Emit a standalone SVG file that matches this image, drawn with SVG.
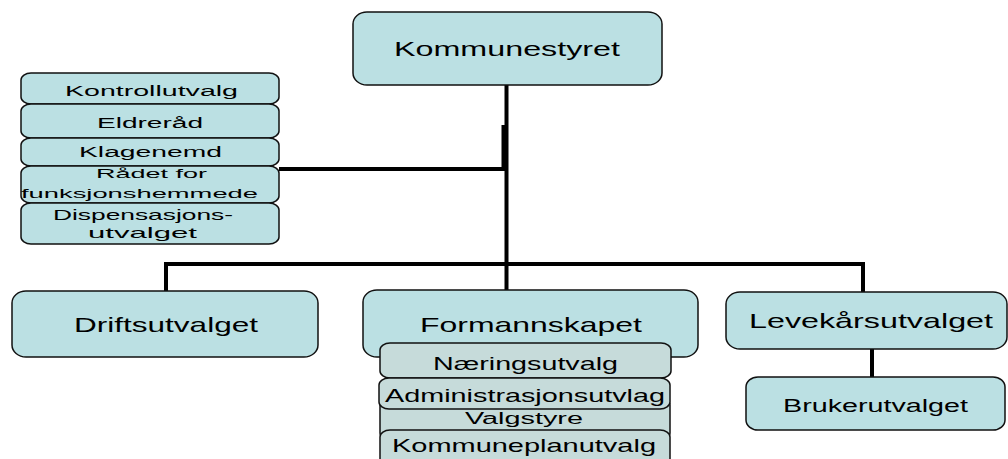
<svg xmlns="http://www.w3.org/2000/svg" width="1008" height="459" viewBox="0 0 1008 459">
<style>
text{font-family:"Liberation Sans",Arial,sans-serif;fill:#000;text-anchor:middle}
.box{fill:#BBE0E3;stroke:#111;stroke-width:1.5}
.sub{fill:#C6DBDA;stroke:#111;stroke-width:1.5}
.con{fill:none;stroke:#000;stroke-width:4}
</style>
<rect width="1008" height="459" fill="#fff"/>
<g id="connectors">
<path class="con" d="M506.5 85 V290"/>
<path class="con" d="M279 169 H503.5 V125"/>
<path class="con" d="M166 291 V264 H863 V292"/>
<path class="con" d="M872 349 V377"/>
</g>
<g id="kommunestyret">
<rect class="box" x="353" y="12" width="309" height="73" rx="14" ry="12"/>
<text x="507" y="56" font-size="20" textLength="226" lengthAdjust="spacingAndGlyphs">Kommunestyret</text>
</g>
<g id="kontrollutvalg">
<rect class="box" x="21" y="73" width="258" height="31" rx="10" ry="7"/>
<text x="151.5" y="96" font-size="15.5" textLength="173" lengthAdjust="spacingAndGlyphs">Kontrollutvalg</text>
</g>
<g id="eldrerad">
<rect class="box" x="21" y="104" width="258" height="34" rx="10" ry="7"/>
<text x="150" y="128" font-size="15.5" textLength="106" lengthAdjust="spacingAndGlyphs">Eldreråd</text>
</g>
<g id="klagenemd">
<rect class="box" x="21" y="138" width="258" height="28" rx="10" ry="7"/>
<text x="150.5" y="157" font-size="15.5" textLength="143" lengthAdjust="spacingAndGlyphs">Klagenemd</text>
</g>
<g id="radet">
<rect class="box" x="21" y="166" width="258" height="37" rx="10" ry="7"/>
<text x="151.5" y="178" font-size="13.5" textLength="111" lengthAdjust="spacingAndGlyphs">Rådet for</text>
<text x="139.5" y="198" font-size="13.5" textLength="237" lengthAdjust="spacingAndGlyphs">funksjonshemmede</text>
</g>
<g id="dispensasjon">
<rect class="box" x="21" y="203" width="258" height="41" rx="10" ry="7"/>
<text x="143" y="220" font-size="15" textLength="180" lengthAdjust="spacingAndGlyphs">Dispensasjons-</text>
<text x="142.5" y="238" font-size="15" textLength="109" lengthAdjust="spacingAndGlyphs">utvalget</text>
</g>
<g id="driftsutvalget">
<rect class="box" x="12" y="291" width="306" height="66" rx="14" ry="12"/>
<text x="166" y="332" font-size="21" textLength="184" lengthAdjust="spacingAndGlyphs">Driftsutvalget</text>
</g>
<g id="formannskapet">
<rect class="box" x="363" y="290" width="335" height="67" rx="14" ry="12"/>
<text x="531" y="332" font-size="21" textLength="222" lengthAdjust="spacingAndGlyphs">Formannskapet</text>
</g>
<g id="valgstyre">
<rect class="sub" x="380" y="398" width="290" height="42" rx="10" ry="7"/>
<text x="524" y="424" font-size="16" textLength="118" lengthAdjust="spacingAndGlyphs">Valgstyre</text>
</g>
<g id="naeringsutvalg">
<rect class="sub" x="380" y="343" width="291" height="35" rx="10" ry="7"/>
<text x="525.5" y="370" font-size="19" textLength="185" lengthAdjust="spacingAndGlyphs">Næringsutvalg</text>
</g>
<g id="administrasjonsutvlag">
<rect class="sub" x="379" y="378" width="291" height="31" rx="10" ry="7"/>
<text x="525" y="402" font-size="18.5" textLength="280" lengthAdjust="spacingAndGlyphs">Administrasjonsutvlag</text>
</g>
<g id="kommuneplanutvalg">
<rect class="sub" x="380" y="430" width="290" height="45" rx="10" ry="7"/>
<text x="524" y="452" font-size="18.5" textLength="264" lengthAdjust="spacingAndGlyphs">Kommuneplanutvalg</text>
</g>
<g id="levekarsutvalget">
<rect class="box" x="726" y="292" width="281" height="57" rx="14" ry="12"/>
<text x="871" y="328" font-size="21" textLength="244" lengthAdjust="spacingAndGlyphs">Levekårsutvalget</text>
</g>
<g id="brukerutvalget">
<rect class="box" x="746" y="377" width="259" height="53" rx="12" ry="10"/>
<text x="875.5" y="412" font-size="18" textLength="185" lengthAdjust="spacingAndGlyphs">Brukerutvalget</text>
</g>
</svg>
